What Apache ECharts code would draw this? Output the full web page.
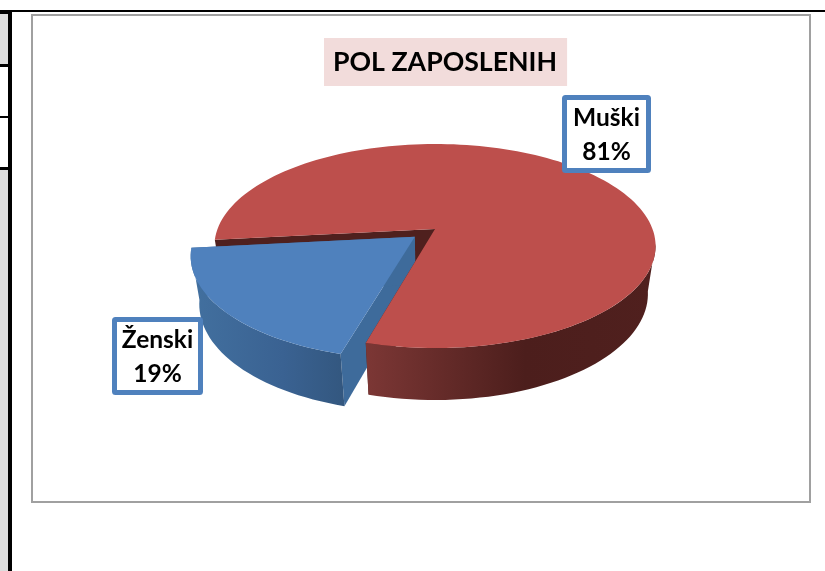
<!DOCTYPE html>
<html>
<head>
<meta charset="utf-8">
<title>POL ZAPOSLENIH</title>
<script src="https://cdn.jsdelivr.net/npm/echarts@6/dist/echarts.min.js"></script>
<style>
html, body { margin: 0; padding: 0; background: #fff; }
#main { width: 825px; height: 571px; }
</style>
</head>
<body>
<div id="main"></div>
<script>
var titleText = 'POL ZAPOSLENIH';
var categories = ['Muški', 'Ženski'];
var shares = [81, 19];

// 3d look: perspective of the disc, apex of the pie sits at cx,cy
var cam = { cx: 435, cy: 229, sx: 217.5, sz: 99.2, k: 1 / 6, drop: 49.3, m: 0.035 };
var startAngle = 263.9;
var explode = [0, 0.12];
var topColors = ['#bd4f4c', '#4f81bd'];
var cutColors = ['#4f201e', '#3e6b9b'];
var wallStops = [
    [[0, '#7c3735'], [0.55, '#4c1e1c'], [1, '#50201e']],
    [[0, '#42709f'], [0.6, '#3a6292'], [1, '#33577f']]
];
var labelBoxes = [
    { x: 564.5, y: 97.5, w: 84, h: 73 },
    { x: 114.5, y: 319.5, w: 86, h: 73 }
];
var fontName = 'Lato, "Noto Sans", sans-serif';

function project(a, r, off, h) {
    var rad = a * Math.PI / 180;
    var X = r * Math.sin(rad) + off[0];
    var Z = -r * Math.cos(rad) + off[1];
    var w = 1 - cam.k * Z + cam.m * h;
    return [cam.cx + cam.sx * X / w, cam.cy + (cam.sz * Z + cam.drop * h) / w];
}

function rim(a0, a1, off, h) {
    var pts = [];
    var n = Math.max(2, Math.ceil(Math.abs(a1 - a0) / 2));
    for (var i = 0; i <= n; i++) {
        pts.push(project(a0 + (a1 - a0) * i / n, 1, off, h));
    }
    return pts;
}

function sliceAngles(idx) {
    var total = 0, before = 0;
    shares.forEach(function (v, i) {
        total += v;
        if (i < idx) before += v;
    });
    var a0 = startAngle + before / total * 360;
    return [a0, a0 + shares[idx] / total * 360];
}

function poly(points, fill, z2) {
    return { type: 'polygon', z2: z2, shape: { points: points }, style: { fill: fill } };
}

function renderSlice(params, api) {
    var idx = params.dataIndex;
    var ang = sliceAngles(idx);
    var mid = (ang[0] + ang[1]) / 2 * Math.PI / 180;
    var off = [explode[idx] * Math.sin(mid), -explode[idx] * Math.cos(mid)];
    var top = rim(ang[0], ang[1], off, 0);
    var apexTop = project(0, 0, off, 0);
    var apexBottom = project(0, 0, off, 1);

    // the big slice has to sit over the small one, except its own back cut
    var base = idx === 0 ? 30 : 10;
    var children = [];

    [ang[0], ang[1]].forEach(function (a, e) {
        var cut = [apexTop, project(a, 1, off, 0), project(a, 1, off, 1), apexBottom];
        children.push(poly(cut, cutColors[idx], idx === 0 ? (e === 0 ? 1 : 31) : base + 1));
    });

    // only the part of the rim that faces the viewer
    for (var turn = -360; turn <= 360; turn += 360) {
        var from = Math.max(ang[0], 98 + turn);
        var to = Math.min(ang[1], 262 + turn);
        if (to > from) {
            var wall = rim(from, to, off, 0).concat(rim(to, from, off, 1));
            children.push(poly(wall, new echarts.graphic.LinearGradient(0, 0, 1, 0,
                wallStops[idx].map(function (s) { return { offset: s[0], color: s[1] }; })), base + 2));
        }
    }

    children.push(poly([apexTop].concat(top), topColors[idx], base + 3));

    var box = labelBoxes[idx];
    children.push({
        type: 'rect', z2: 50,
        shape: { x: box.x, y: box.y, width: box.w, height: box.h, r: 1 },
        style: { fill: '#fff', stroke: '#4f81bd', lineWidth: 5 }
    });
    children.push({
        type: 'text', z2: 51,
        x: box.x + box.w / 2, y: box.y + box.h / 2 + 1,
        style: {
            text: api.value(1) + '\n' + api.value(0) + '%',
            fill: '#000', align: 'center', verticalAlign: 'middle',
            font: 'bold 24.5px ' + fontName, lineHeight: 34
        }
    });
    return { type: 'group', children: children };
}

var myChart = echarts.init(document.getElementById('main'), null, { renderer: 'canvas' });
var option = {
    animation: false,
    backgroundColor: '#fff',
    title: {
        text: titleText,
        left: 324, top: 38,
        padding: [9, 10, 9, 9],
        backgroundColor: '#f2dcdb',
        textStyle: { fontFamily: fontName, fontWeight: 'bold', fontSize: 26.7, color: '#000', lineHeight: 30 }
    },
    graphic: [
        // bits of the document table around the chart
        { type: 'rect', z: -1, shape: { x: 0, y: 14, width: 8, height: 557 }, style: { fill: '#dcdcdc' } },
        { type: 'rect', z: -1, shape: { x: 0, y: 67, width: 8, height: 100 }, style: { fill: '#fff' } },
        { type: 'rect', z: -1, shape: { x: 0, y: 64, width: 8, height: 3 }, style: { fill: '#000' } },
        { type: 'rect', z: -1, shape: { x: 0, y: 116, width: 8, height: 2 }, style: { fill: '#000' } },
        { type: 'rect', z: -1, shape: { x: 0, y: 167, width: 8, height: 3 }, style: { fill: '#000' } },
        { type: 'rect', z: -1, shape: { x: 8, y: 10, width: 4, height: 561 }, style: { fill: '#000' } },
        { type: 'rect', z: -1, shape: { x: 0, y: 10, width: 12, height: 4 }, style: { fill: '#000' } },
        { type: 'rect', z: -1, shape: { x: 0, y: 10, width: 825, height: 2 }, style: { fill: '#000' } },
        { type: 'rect', z: -1, shape: { x: 32, y: 15, width: 778, height: 487 }, style: { fill: '#fff', stroke: '#a0a0a0', lineWidth: 2 } }
    ],
    series: [{
        type: 'custom',
        coordinateSystem: 'none',
        renderItem: renderSlice,
        dimensions: ['share', 'name'],
        data: categories.map(function (c, i) { return [shares[i], c]; })
    }]
};
myChart.setOption(option);
</script>
</body>
</html>
